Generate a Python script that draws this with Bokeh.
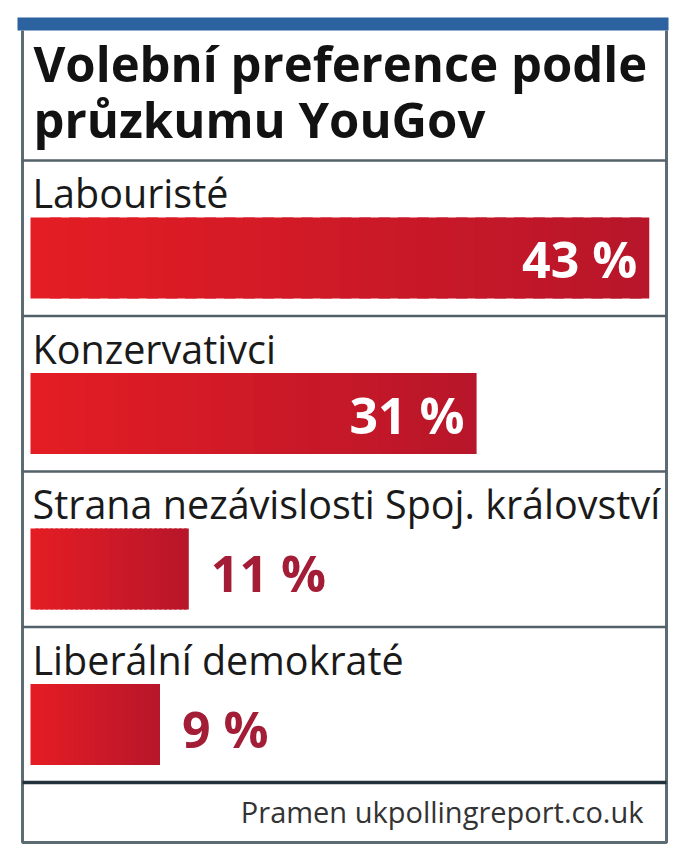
from bokeh.plotting import figure
from bokeh.models import Range1d
from bokeh.core.properties import value
from bokeh.embed import file_html
from bokeh.resources import INLINE

# ---------------- data ----------------
title_lines = ["Volební preference podle", "průzkumu YouGov"]
parties = ["Labouristé", "Konzervativci",
           "Strana nezávislosti Spoj. království", "Liberální demokraté"]
shares = [43, 31, 11, 9]
share_labels = ["43 %", "31 %", "11 %", "9 %"]
source_note = "Pramen ukpollingreport.co.uk"

# ---------------- layout (screen px) ----------------
W, H = 684, 855
BAR_X0 = 30              # screen px of 0 %
PX_PER_PCT = 14.39       # screen px per percentage point
FRAME_L, FRAME_R, FRAME_B = 22, 666, 842
BAND_T, BAND_B = 17, 30
ROW_TOP0, ROW_H = 160, 155.5
BAR_OFF, BAR_H = 57, 81
LABEL_OFF = 48
FONT = "Open Sans"
MID = 0.388              # em-box middle above the baseline
N_SLICES = 32            # gradient slices per bar
C_LEFT = (228, 29, 36)
C_RIGHT = (184, 22, 42)


def sx(px):
    return (px - BAR_X0) / PX_PER_PCT


def mid_y(baseline, size):
    return baseline - MID * size


p = figure(width=W, height=H,
           x_range=Range1d(sx(0), sx(W)),
           y_range=Range1d(H, 0),
           output_backend="svg", toolbar_location=None,
           x_axis_location=None, y_axis_location=None,
           min_border=0, tools="")
p.grid.visible = False
p.outline_line_color = None
p.background_fill_color = "white"
p.border_fill_color = "white"

# blue band at the top
p.quad(left=[sx(17)], right=[sx(668)], top=[BAND_T], bottom=[BAND_B],
       fill_color="#2c62a0", line_color=None)

# frame
p.multi_line(xs=[[sx(FRAME_L), sx(FRAME_L), sx(FRAME_R), sx(FRAME_R)]],
             ys=[[BAND_B, FRAME_B, FRAME_B, BAND_B]],
             line_color="#5d6b73", line_width=3)

# separators
n = len(parties)
row_tops = [ROW_TOP0 + i * ROW_H for i in range(n + 1)]
p.multi_line(xs=[[sx(FRAME_L), sx(FRAME_R)] for _ in range(n)],
             ys=[[y, y] for y in row_tops[:n]],
             line_color="#52606a", line_width=2.5)
p.multi_line(xs=[[sx(FRAME_L), sx(FRAME_R)]], ys=[[row_tops[n], row_tops[n]]],
             line_color="#22323c", line_width=3.5)

# title
TS = 49
p.text(x=[sx(33)] * 2, y=[mid_y(82, TS), mid_y(138, TS)], text=title_lines,
       text_font=value(FONT), text_font_style="bold", text_font_size=f"{TS}px",
       text_color="#121212", text_baseline="middle", text_align="left")

# party labels
LS = 39.5
p.text(x=[sx(32)] * n, y=[mid_y(t + LABEL_OFF, LS) for t in row_tops[:n]],
       text=parties, text_font=value(FONT), text_font_size=f"{LS}px",
       text_color="#1a1a1a", text_baseline="middle", text_align="left")

# bars (left-to-right shading; each slice is a fraction of the bar's own value,
# slightly overlapping the next one so that no seams show)
bar_y = [t + BAR_OFF + BAR_H / 2 for t in row_tops[:n]]
for k in range(N_SLICES):
    f = k / (N_SLICES - 1)
    col = "#%02x%02x%02x" % tuple(round(a + (b - a) * f) for a, b in zip(C_LEFT, C_RIGHT))
    p.hbar(y=bar_y,
           left=[s * k / N_SLICES for s in shares],
           right=[min(s, s * (k + 1.6) / N_SLICES) for s in shares],
           height=BAR_H, fill_color=col, line_color=None)

# value labels
VS = 50
inside = [i for i in range(n) if shares[i] >= 20]
outside = [i for i in range(n) if shares[i] < 20]
p.text(x=[shares[i] for i in inside], y=[bar_y[i] + 1 for i in inside],
       text=[share_labels[i] for i in inside], x_offset=-12,
       text_font=value(FONT), text_font_style="bold", text_font_size=f"{VS}px",
       text_color="white", text_baseline="middle", text_align="right")
p.text(x=[shares[i] for i in outside], y=[bar_y[i] + 4 for i in outside],
       text=[share_labels[i] for i in outside], x_offset=22,
       text_font=value(FONT), text_font_style="bold", text_font_size=f"{VS}px",
       text_color="#a31d36", text_baseline="middle", text_align="left")

# source note
FS = 29
p.text(x=[sx(643)], y=[mid_y(822, FS)], text=[source_note],
       text_font=value(FONT), text_font_size=f"{FS}px", text_color="#333333",
       text_baseline="middle", text_align="right")

open("out.html", "w").write(file_html(p, INLINE))
